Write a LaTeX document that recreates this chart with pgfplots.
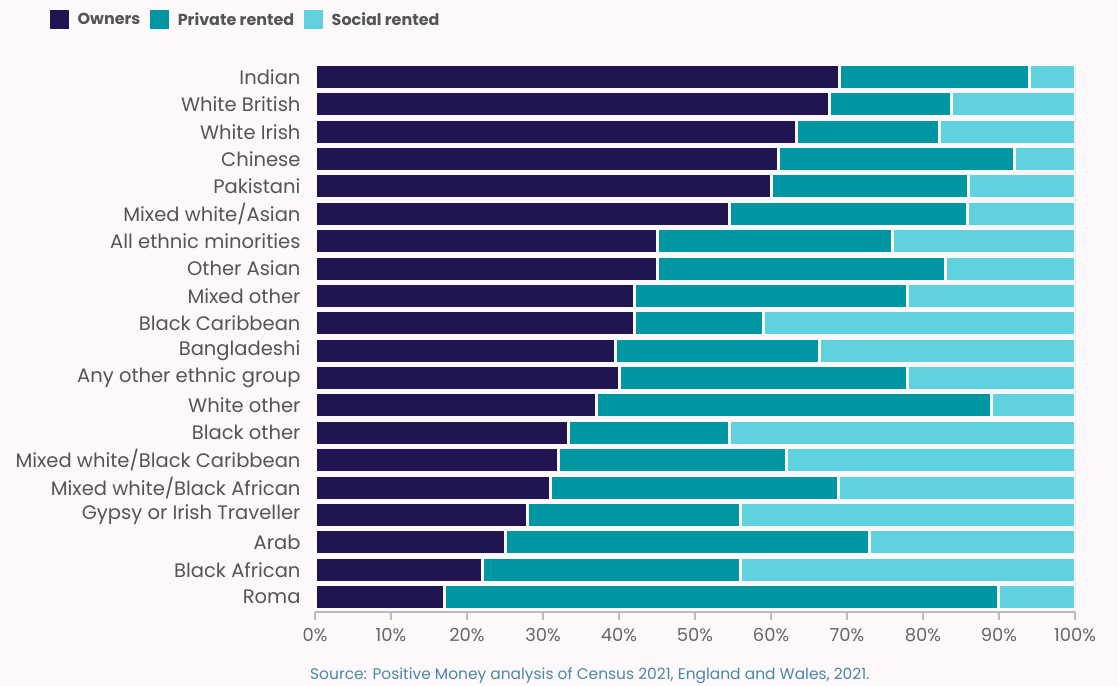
\documentclass[border=0pt]{standalone}
\usepackage{pgfplots}
\usepackage{pgfplotstable}
\pgfplotsset{compat=1.18}
\usepackage{fontspec}
\setmainfont{Poppins}
\definecolor{bgc}{HTML}{FDF8FA}
\definecolor{own}{HTML}{201550}
\definecolor{priv}{HTML}{0097A4}
\definecolor{soc}{HTML}{60D1DF}
\definecolor{lab}{HTML}{555555}
\definecolor{tlab}{HTML}{666666}
\definecolor{src}{HTML}{4A88A8}
\definecolor{axc}{HTML}{BBBBBB}

% y: 0 = Roma (bottom) ... 19 = Indian (top)
\pgfplotstableread{
y  own   priv  soc
0  17.0  72.9  10.1
1  22.0  34.0  44.0
2  25.1  47.9  27.0
3  28.0  28.0  44.0
4  31.0  37.9  31.1
5  32.0  30.0  38.0
6  33.4  21.1  45.5
7  37.0  52.0  11.0
8  40.0  38.0  22.0
9  39.6  26.8  33.6
10 42.0  17.0  41.0
11 42.0  36.0  22.0
12 45.0  38.0  17.0
13 45.0  31.0  24.0
14 54.5  31.4  14.1
15 60.0  26.0  14.0
16 61.0  31.0  8.0
17 63.4  18.8  17.8
18 67.7  16.1  16.2
19 69.0  25.0  6.0
}\data

\begin{document}
\begin{tikzpicture}
\fill[bgc] (0,0) rectangle (1118bp,686bp);
\begin{axis}[
  at={(315bp,74bp)}, anchor=south west,
  scale only axis, width=760bp, height=548.7bp,
  xbar stacked, bar width=25bp,
  xmin=0, xmax=100, ymin=-0.548, ymax=19.5,
  axis x line*=bottom, axis y line*=left,
  y axis line style={draw=none},
  x axis line style={draw=axc, line width=2bp},
  xtick={0,10,...,100},
  tick align=outside, major tick length=8bp,
  xtick style={draw=axc, line width=1.5bp},
  ytick style={draw=none},
  xmajorgrids, major grid style={draw=black!5, line width=0.8bp},
  /pgf/number format/assume math mode=true,
  xticklabel={\pgfmathprintnumber{\tick}\%},
  xticklabel style={font=\fontsize{18}{20}\selectfont, text=tlab, yshift=-5bp},
  ytick={0,...,19},
  yticklabels={Roma, Black African, Arab, Gypsy or Irish Traveller, Mixed white/Black African, Mixed white/Black Caribbean, Black other, White other, Any other ethnic group, Bangladeshi, Black Caribbean, Mixed other, Other Asian, All ethnic minorities, Mixed white/Asian, Pakistani, Chinese, White Irish, White British, Indian},
  yticklabel style={font=\fontsize{19.6}{21}\selectfont, text=lab, xshift=-3bp},
  every axis plot/.append style={draw=bgc, line width=3bp},
  legend columns=3,
  legend cell align=left,
  legend image code/.code={\fill[#1,draw=none] (0bp,-9.5bp) rectangle (19bp,9.5bp); \path (24bp,0bp);},
  legend style={at={(axis description cs:-0.3487,1.0789)}, anchor=west,
    draw=none, fill=none, inner sep=0pt,
    font=\bfseries\fontsize{16}{19}\selectfont, text=lab,
    /tikz/every even column/.append style={column sep=8bp}},
  xlabel={Source: Positive Money analysis of Census 2021, England and Wales, 2021.},
  xlabel style={at={(axis description cs:-0.0066,-0.1166)}, anchor=west, inner sep=0pt,
    font=\fontsize{15.5}{18}\selectfont, text=src},
]
\addplot[fill=own] table[x=own, y=y]{\data};
\addplot[fill=priv] table[x=priv, y=y]{\data};
\addplot[fill=soc] table[x=soc, y=y]{\data};
\legend{Owners, Private rented, Social rented}
\end{axis}
\end{tikzpicture}
\end{document}
